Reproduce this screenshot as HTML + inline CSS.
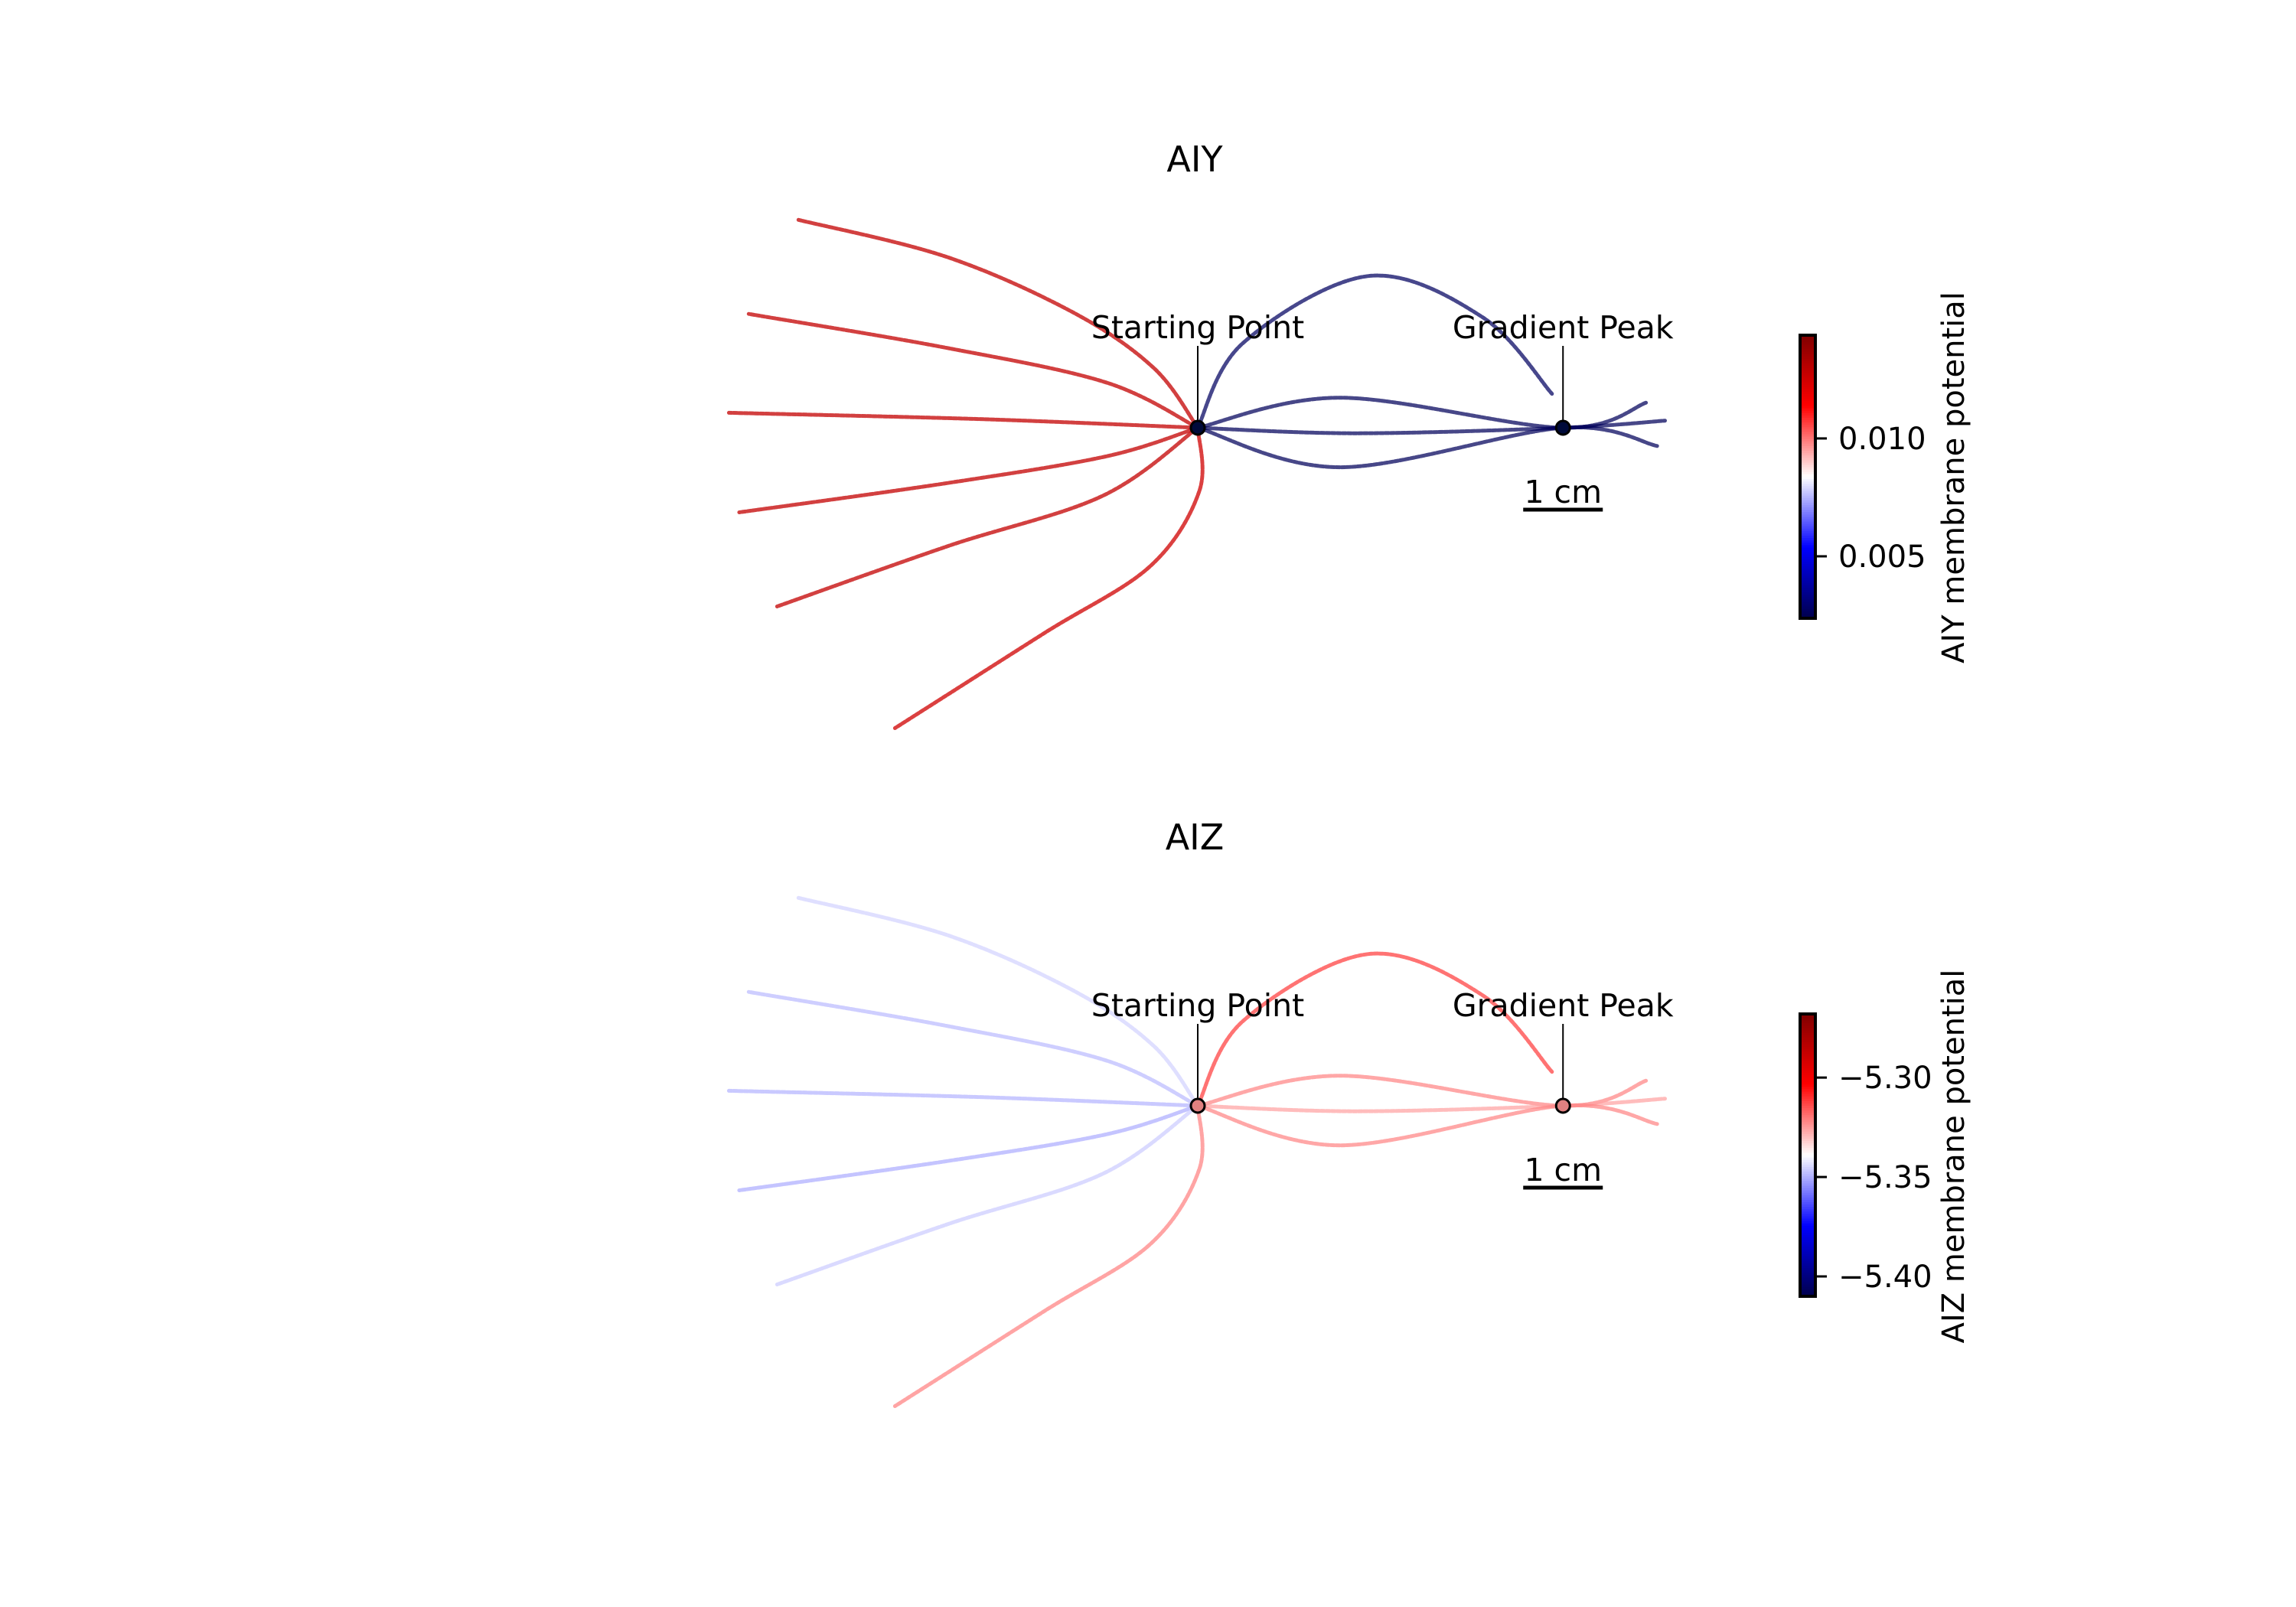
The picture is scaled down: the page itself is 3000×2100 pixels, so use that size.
<!DOCTYPE html>
<html><head><meta charset="utf-8"><style>
html,body{margin:0;padding:0;background:#fff;}
svg{display:block;font-family:"DejaVu Sans","Liberation Sans",sans-serif;}
</style></head><body>
<svg id="chart" width="3000" height="2100" viewBox="0 0 3000 2100" xmlns="http://www.w3.org/2000/svg"></svg>
<script>
// Trajectories in cm, origin at starting point, y up
const trajRedPts = [
  [[0,0],[-0.55,0.75],[-1.56,1.45],[-3.17,2.16],[-5.05,2.63]],
  [[0,0],[-1.15,0.57],[-3.17,1.01],[-5.68,1.44]],
  [[0,0],[-2.77,0.11],[-5.93,0.19]],
  [[0,0],[-1.15,-0.36],[-3.17,-0.70],[-5.80,-1.07]],
  [[0,0],[-1.2,-0.86],[-3.17,-1.50],[-5.32,-2.26]],
  [[0,0],[0.02,-0.8],[-0.6,-1.75],[-1.96,-2.61],[-3.83,-3.80]]
];
const trajBluePts = [
  [[0,0],[0.57,1.07],[2.16,1.92],[3.60,1.40],[4.48,0.43]],
  [[0,0],[1.8,0.38],[4.62,0],[5.68,0.32]],
  [[0,0],[2.0,-0.07],[4.62,0],[5.91,0.09]],
  [[0,0],[1.8,-0.50],[4.62,0],[5.81,-0.23]]
];
const peakPt = [4.62, 0];
const aiyRedValues = [0.0128,0.0128,0.0128,0.0128,0.0128,0.0125];
const aiyBlueValues = [0.0027,0.0026,0.0026,0.0026];
const aizRedValues = [-5.345,-5.348,-5.349,-5.350,-5.346,-5.322];
const aizBlueValues = [-5.312,-5.322,-5.326,-5.322];
const aiyTicks = [0.010, 0.005];
const aiyTickLabels = ["0.010","0.005"];
const aizTicks = [-5.30,-5.35,-5.40];
const aizTickLabels = ["\u22125.30","\u22125.35","\u22125.40"];
const aiyRange = [0.00237, 0.01438];
const aizRange = [-5.410, -5.268];

const svg = document.getElementById('chart');
const NS = 'http://www.w3.org/2000/svg';
const PX = 103.3;
function mk(tag, attrs){const e=document.createElementNS(NS,tag);for(const k in attrs)e.setAttribute(k,attrs[k]);svg.appendChild(e);return e;}
function seismic(t){
  t=Math.max(0,Math.min(1,t));
  const st=[[0,0,0,0.3],[0.25,0,0,1],[0.5,1,1,1],[0.75,1,0,0],[1,0.5,0,0]];
  for(let i=0;i<4;i++){const a=st[i],b=st[i+1];if(t<=b[0]){const f=(t-a[0])/(b[0]-a[0]);return [0,1,2].map(j=>Math.round(255*(a[j+1]+f*(b[j+1]-a[j+1]))));}}
  return [128,0,0];
}
function rgb(c){return 'rgb('+c.join(',')+')';}
function pathFrom(pts,ox,oy){
  const P=pts.map(p=>[ox+p[0]*PX, oy-p[1]*PX]);
  let d='M'+P[0][0].toFixed(1)+','+P[0][1].toFixed(1);
  for(let i=0;i<P.length-1;i++){
    const p0=P[Math.max(0,i-1)],p1=P[i],p2=P[i+1],p3=P[Math.min(P.length-1,i+2)];
    const c1=[p1[0]+(p2[0]-p0[0])/6,p1[1]+(p2[1]-p0[1])/6];
    const c2=[p2[0]-(p3[0]-p1[0])/6,p2[1]-(p3[1]-p1[1])/6];
    d+=' C'+c1.map(v=>v.toFixed(1)).join(',')+' '+c2.map(v=>v.toFixed(1)).join(',')+' '+p2.map(v=>v.toFixed(1)).join(',');
  }
  return d;
}
function panel(name,title,ox,oy,redVals,blueVals,range,ticks,tickLabels,cbTop,cbBot,labelCy,label,markerFill){
  const t=mk('text',{x:ox-4,y:oy-335,'font-size':46,'text-anchor':'middle'});
  
  
  t.textContent=title;
  const norm=v=>(v-range[0])/(range[1]-range[0]);
  trajRedPts.forEach((pts,i)=>{
    const p=mk('path',{d:pathFrom(pts,ox,oy),fill:'none',stroke:rgb(seismic(norm(redVals[i]))),'stroke-opacity':0.75,'stroke-width':5,'stroke-dasharray':'5 2','stroke-linecap':'round'});
    
    
  });
  trajBluePts.forEach((pts,i)=>{
    const p=mk('path',{d:pathFrom(pts,ox,oy),fill:'none',stroke:rgb(seismic(norm(blueVals[i]))),'stroke-opacity':0.72,'stroke-width':5,'stroke-dasharray':'5 2','stroke-linecap':'round'});
    
    
  });
  const px=ox+peakPt[0]*PX, py=oy-peakPt[1]*PX;
  [[ox,oy,'Starting Point','start'],[px,py,'Gradient Peak','peak']].forEach(a=>{
    const l=mk('line',{x1:a[0],y1:oy-107,x2:a[0],y2:a[1],stroke:'#000','stroke-width':2});
    
    
    const c=mk('circle',{cx:a[0],cy:a[1],r:9,fill:markerFill,stroke:'#000','stroke-width':3});
    
    
    const tx=mk('text',{x:a[0],y:oy-117,'font-size':41,'text-anchor':'middle'});
    
    
    tx.textContent=a[2];
  });
  const sb=mk('line',{x1:px-52,y1:oy+107,x2:px+52,y2:oy+107,stroke:'#000','stroke-width':5});
  
  
  const st=mk('text',{x:px,y:oy+98,'font-size':41,'text-anchor':'middle'});
  
  
  st.textContent='1 cm';
  // colorbar
  const cx=2352,cw=20,n=120;
  for(let i=0;i<n;i++){
    const y0=cbTop+(cbBot-cbTop)*i/n;
    const r=mk('rect',{x:cx,y:y0.toFixed(2),width:cw,height:((cbBot-cbTop)/n+0.6).toFixed(2),fill:rgb(seismic(1-(i+0.5)/n))});
    
    
  }
  const fr=mk('rect',{x:cx,y:cbTop,width:cw,height:cbBot-cbTop,fill:'none',stroke:'#000','stroke-width':4});
  
  
  const vy=v=>cbBot-(v-range[0])/(range[1]-range[0])*(cbBot-cbTop);
  ticks.forEach((v,i)=>{
    const y=vy(v);
    const tk=mk('line',{x1:cx+cw,y1:y,x2:cx+cw+15,y2:y,stroke:'#000','stroke-width':3});
    
    
    const tl=mk('text',{x:cx+50,y:y+14,'font-size':40});
    
    
    tl.textContent=tickLabels[i];
  });
  const lb=mk('text',{x:0,y:0,'font-size':40,'text-anchor':'middle',transform:'translate(2566,'+labelCy+') rotate(-90)'});
  
  
  lb.textContent=label;
}
panel('aiy','AIY',1565,559,aiyRedValues,aiyBlueValues,aiyRange,aiyTicks,aiyTickLabels,438,808,624,'AIY membrane potential','#000a3a');
panel('aiz','AIZ',1565,1445,aizRedValues,aizBlueValues,aizRange,aizTicks,aizTickLabels,1325,1694,1511,'AIZ membrane potential','#e08080');
</script>
</body></html>
